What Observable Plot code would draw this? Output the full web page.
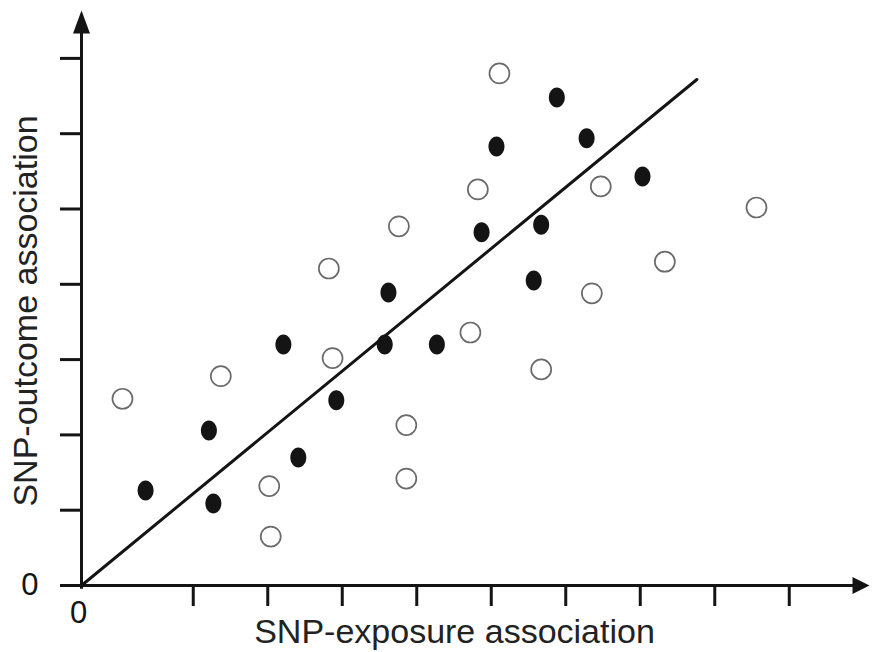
<!DOCTYPE html>
<html>
<head>
<meta charset="utf-8">
<script src="https://cdn.jsdelivr.net/npm/d3@7"></script>
<script src="https://cdn.jsdelivr.net/npm/@observablehq/plot@0.6"></script>
<style>
  html, body { margin: 0; padding: 0; background: #fff; }
  #chart svg { display: block; }
</style>
</head>
<body>
<div id="chart"></div>
<script>
// ---- data (in axis units) ----
const filledX = [0.86, 1.71, 1.77, 2.71, 2.91, 3.42, 4.12, 4.07, 4.77, 5.37, 5.57, 6.07, 6.17, 6.38, 6.78, 7.53];
const filledY = [1.26, 2.06, 1.09, 3.20, 1.70, 2.46, 3.89, 3.20, 3.20, 4.69, 5.83, 4.05, 4.79, 6.48, 5.94, 5.43];
const openX = [0.55, 1.87, 2.52, 2.54, 3.32, 3.37, 4.26, 4.36, 4.36, 5.22, 5.32, 5.61, 6.17, 6.85, 6.97, 7.83, 9.06];
const openY = [2.48, 2.78, 1.32, 0.65, 4.21, 3.02, 4.77, 2.13, 1.42, 3.36, 5.26, 6.80, 2.87, 3.88, 5.30, 4.30, 5.02];
const fitX = [0, 8.26];
const fitY = [0, 6.72];
const xTicks = [1.5, 2.5, 3.5, 4.5, 5.5, 6.5, 7.5, 8.5, 9.5];
const yTicks = [0, 1, 2, 3, 4, 5, 6, 7];
const xMax = 10.577;
const yMax = 7.636;
const xLabel = "SNP-exposure association";
const yLabel = "SNP-outcome association";
const zeroLabel = "0";

const filled = filledX.map((x, i) => ({x, y: filledY[i]}));
const open = openX.map((x, i) => ({x, y: openY[i]}));
const fit = fitX.map((x, i) => ({x, y: fitY[i]}));

// custom symbols
const ellipse = {
  draw(ctx, size) {
    const r = Math.sqrt(size / Math.PI);
    const rx = 0.8 * r, ry = r, k = 0.5523;
    ctx.moveTo(rx, 0);
    ctx.bezierCurveTo(rx, k * ry, k * rx, ry, 0, ry);
    ctx.bezierCurveTo(-k * rx, ry, -rx, k * ry, -rx, 0);
    ctx.bezierCurveTo(-rx, -k * ry, -k * rx, -ry, 0, -ry);
    ctx.bezierCurveTo(k * rx, -ry, rx, -k * ry, rx, 0);
    ctx.closePath();
  }
};
function arrowHead(len, wid) {
  return {
    draw(ctx) {
      ctx.moveTo(0, 0);
      ctx.lineTo(wid / 2, len);
      ctx.lineTo(-wid / 2, len);
      ctx.closePath();
    }
  };
}

const ink = "#141414";

const chart = Plot.plot({
  width: 872,
  height: 652,
  marginLeft: 81,
  marginRight: 3,
  marginTop: 10,
  marginBottom: 67,
  x: {domain: [0, xMax], axis: null},
  y: {domain: [0, yMax], axis: null},
  style: {fontFamily: "'Liberation Sans', Arial, sans-serif", background: "#fff", color: ink, overflow: "visible"},
  marks: [
    // axes lines
    Plot.ruleX([0], {y1: -0.05, y2: yMax - 0.2, stroke: ink, strokeWidth: 3}),
    Plot.ruleY([0], {x1: 0, x2: xMax - 0.15, stroke: ink, strokeWidth: 3}),
    // arrow heads
    Plot.dot([{x: 0, y: yMax}], {x: "x", y: "y", symbol: arrowHead(23, 17), fill: ink, stroke: "none"}),
    Plot.dot([{x: xMax, y: 0}], {x: "x", y: "y", symbol: arrowHead(17, 17), rotate: 90, fill: ink, stroke: "none"}),
    // ticks
    Plot.axisY({ticks: yTicks, tickSize: 21, tickPadding: 22, strokeWidth: 3, color: ink, fontSize: 31,
      tickFormat: d => (d === 0 ? zeroLabel : ""), label: null}),
    Plot.axisX({ticks: xTicks, tickSize: 21, strokeWidth: 3, color: ink, tickFormat: () => "", label: null}),
    Plot.axisX({ticks: [0], tickSize: 0, tickPadding: 15, color: ink, fontSize: 31, dx: -3,
      tickFormat: () => zeroLabel, label: null}),
    // fitted line
    Plot.line(fit, {x: "x", y: "y", stroke: ink, strokeWidth: 3}),
    // points
    Plot.dot(open, {x: "x", y: "y", r: 10, fill: "#fff", stroke: "#6a6a6a", strokeWidth: 1.7}),
    Plot.dot(filled, {x: "x", y: "y", r: 10, symbol: ellipse, fill: ink, stroke: "none"}),
    // axis titles
    Plot.text([xLabel], {text: d => d, frameAnchor: "bottom", textAnchor: "middle", lineAnchor: "middle",
      dx: -21, dy: 47, fontSize: 34, fill: "#222"}),
    Plot.text([yLabel], {text: d => d, frameAnchor: "left", textAnchor: "middle", lineAnchor: "middle",
      rotate: -90, dx: -55, dy: 13, fontSize: 34, fill: "#222"})
  ]
});
document.getElementById("chart").appendChild(chart);
</script>
</body>
</html>
